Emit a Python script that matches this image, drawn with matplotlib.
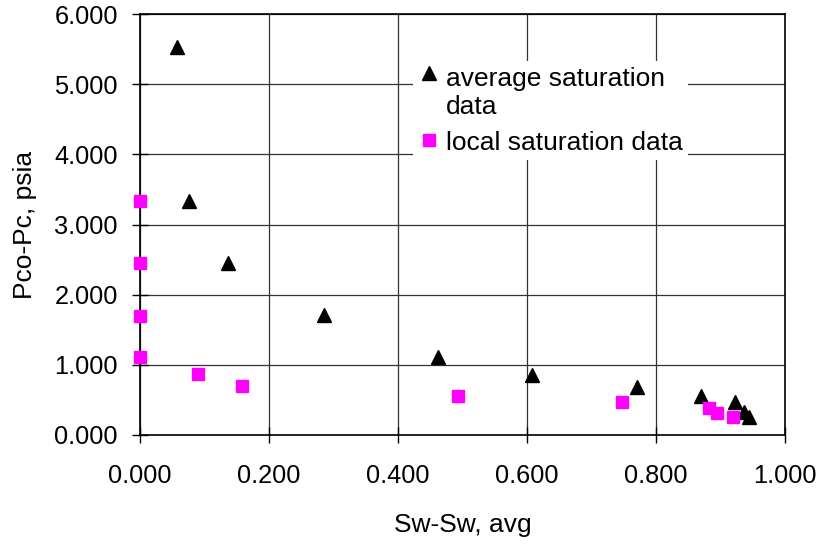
import matplotlib

matplotlib.use("Agg")
import matplotlib.pyplot as plt
from matplotlib.legend_handler import HandlerLine2D
from matplotlib.ticker import FormatStrFormatter, MultipleLocator

plt.rcParams["font.family"] = ["Liberation Sans", "DejaVu Sans"]

# average saturation data (black triangles)
avg_sw = [0.057, 0.076, 0.136, 0.285, 0.462, 0.608, 0.770, 0.870, 0.922, 0.937, 0.944]
avg_pc = [5.526, 3.335, 2.447, 1.710, 1.110, 0.855, 0.690, 0.556, 0.466, 0.330, 0.250]

# local saturation data (magenta squares)
loc_sw = [0.000, 0.000, 0.000, 0.000, 0.090, 0.158, 0.493, 0.747, 0.882, 0.895, 0.919]
loc_pc = [3.335, 2.450, 1.700, 1.116, 0.865, 0.698, 0.560, 0.475, 0.380, 0.318, 0.250]

TICK_FS = 18.3
LABEL_FS = 19
LEGEND_FS = 19


class RaisedHandler(HandlerLine2D):
    """Put the legend marker level with the first line of a two-line label."""

    def __init__(self, dy, **kw):
        super().__init__(**kw)
        self.dy = dy

    def create_artists(self, legend, orig_handle, xdescent, ydescent, width,
                       height, fontsize, trans):
        artists = super().create_artists(legend, orig_handle, xdescent, ydescent,
                                         width, height, fontsize, trans)
        for a in artists:
            a.set_ydata(a.get_ydata() + self.dy)
        return artists


fig = plt.figure(figsize=(8.22, 5.46), dpi=100)
ax = fig.add_axes([140 / 822, 111 / 546, 645 / 822, 421 / 546])

avg_line, = ax.plot(avg_sw, avg_pc, ls="none", marker="^", ms=10, color="black",
                    label="average saturation\ndata", clip_on=False, zorder=3)
loc_line, = ax.plot(loc_sw, loc_pc, ls="none", marker="s", ms=9.3, color="#ff00ff",
                    mec="#ff00ff", label="local saturation data", clip_on=False, zorder=3)

ax.set_xlim(0, 1.0)
ax.set_ylim(0, 6.0)
ax.xaxis.set_major_locator(MultipleLocator(0.2))
ax.yaxis.set_major_locator(MultipleLocator(1.0))
ax.xaxis.set_major_formatter(FormatStrFormatter("%.3f"))
ax.yaxis.set_major_formatter(FormatStrFormatter("%.3f"))
ax.grid(True, color="#333333", lw=0.9)
ax.set_axisbelow(True)
for sp in ax.spines.values():
    sp.set_linewidth(1.2)
    sp.set_color("black")
ax.tick_params(axis="both", direction="inout", length=12, width=1.0,
               labelsize=TICK_FS, colors="black")
ax.tick_params(axis="y", pad=10)
ax.tick_params(axis="x", pad=15)

ax.set_xlabel("Sw-Sw, avg", fontsize=LABEL_FS)
ax.set_ylabel("Pco-Pc, psia", fontsize=LABEL_FS)
ax.xaxis.set_label_coords(0.5, -0.185)
ax.yaxis.set_label_coords(-0.159, 0.5)

leg = ax.legend(loc="upper left", bbox_to_anchor=(0.423, 0.888), fontsize=LEGEND_FS,
                frameon=True, fancybox=False, framealpha=1, facecolor="white",
                edgecolor="none", borderpad=0.22, handlelength=0.8,
                handletextpad=0.22, labelspacing=0.45, borderaxespad=0,
                handler_map={avg_line: RaisedHandler(14.5)})

fig.savefig("out.png", dpi=100)
